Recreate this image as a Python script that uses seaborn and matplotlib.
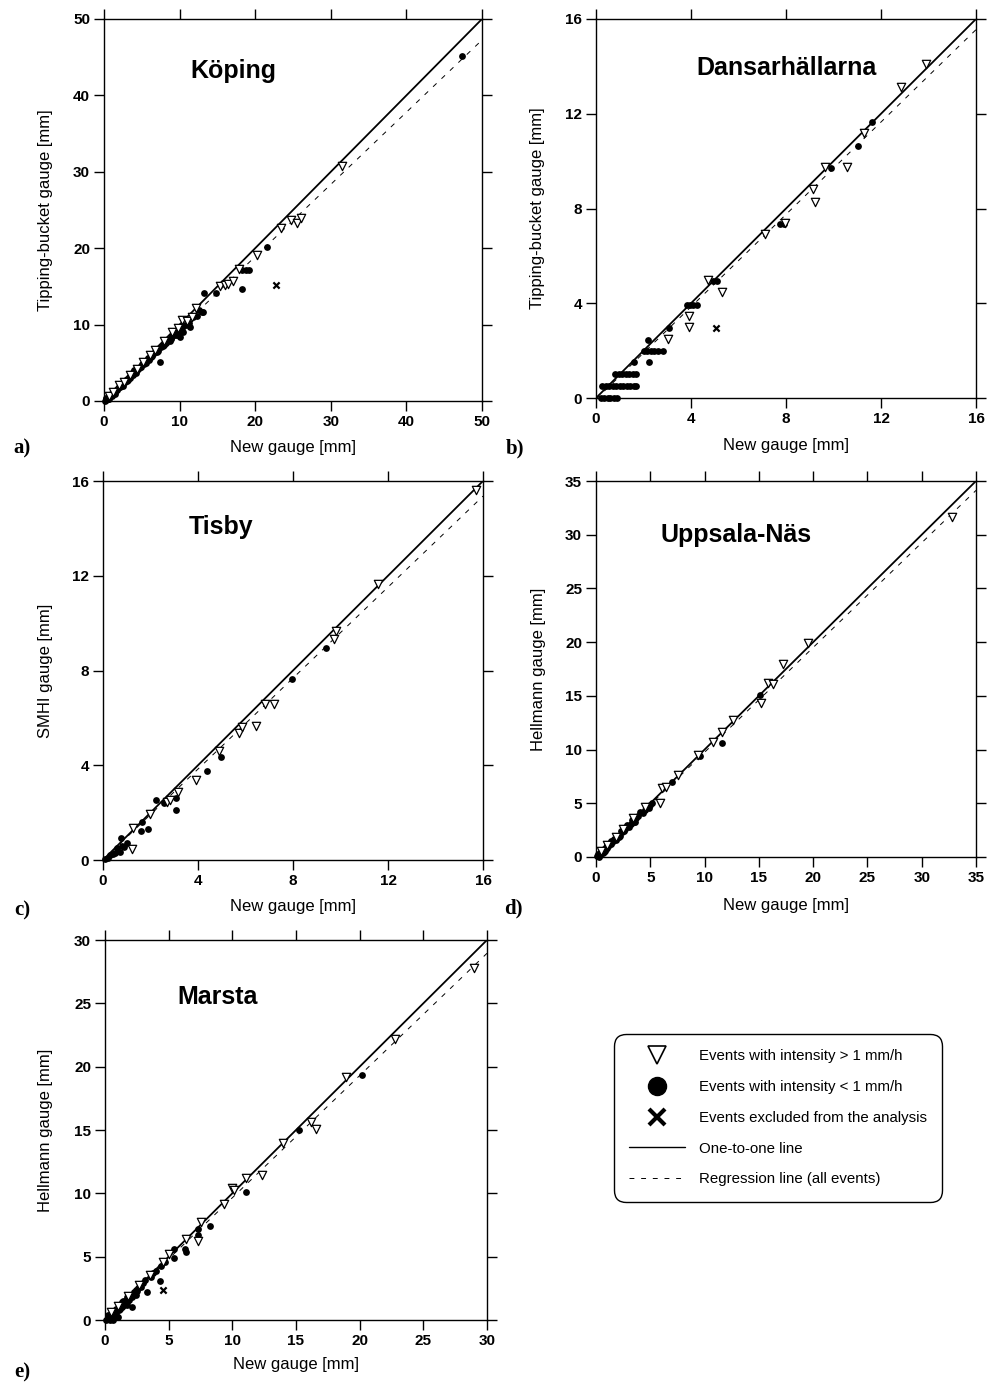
import numpy as np
import pandas as pd
import matplotlib
matplotlib.use("Agg")
import matplotlib.pyplot as plt
from matplotlib.lines import Line2D
import seaborn as sns

sns.set_style("ticks")
plt.rcParams['font.family'] = ['Liberation Sans', 'DejaVu Sans']
for k in ["text.color", "axes.labelcolor", "xtick.color", "ytick.color", "axes.edgecolor"]:
    plt.rcParams[k] = "black"

# ---------------- data ----------------
stations = ["Köping", "Dansarhällarna", "Tisby", "Uppsala-Näs", "Marsta"]
panel_letters = ["a)", "b)", "c)", "d)", "e)"]
y_labels = ["Tipping-bucket gauge [mm]", "Tipping-bucket gauge [mm]", "SMHI gauge [mm]",
            "Hellmann gauge [mm]", "Hellmann gauge [mm]"]
x_label = "New gauge [mm]"
axis_max = [50, 16, 16, 35, 30]
tick_step = [10, 4, 4, 5, 5]
reg_slope = [0.945, 0.975, 0.96, 0.975, 0.965]
reg_intercept = [0.0, -0.05, 0.0, 0.0, 0.0]

# a) Köping
kop_tri_x = [0.6, 1.2, 2.0, 2.6, 3.4, 4.3, 5.2, 6.1, 6.8, 8.0, 9.0, 9.8, 10.3, 11.0, 11.6, 12.2,
             15.3, 16.0, 16.4, 17.1, 17.8, 20.3, 23.4, 24.8, 25.5, 26.1, 31.5]
kop_tri_y = [0.6, 1.2, 2.1, 2.5, 3.4, 4.2, 5.1, 6.0, 6.7, 7.9, 9.0, 9.6, 10.6, 10.5, 11.0, 12.2,
             15.0, 15.2, 15.3, 15.7, 17.3, 19.1, 22.6, 23.7, 23.3, 24.0, 30.7]
kop_dot_x = [0.1, 0.2, 0.3, 0.4, 0.5, 0.6, 0.8, 0.9, 1.0, 1.2, 1.4, 1.5, 1.7, 1.9, 2.1, 2.3, 2.5,
             2.7, 2.9, 3.1, 3.3, 3.5, 3.7, 3.9, 4.0, 4.2, 4.5, 4.8, 5.0, 5.3, 5.6, 5.9, 6.2, 6.5,
             6.9, 7.2, 7.4, 7.6, 7.9, 8.2, 8.5, 8.7, 9.0, 9.3, 9.5, 9.7, 10.1, 10.3, 10.5, 11.4,
             12.3, 12.9, 13.1, 13.2, 14.8, 18.2, 18.2, 18.8, 19.2, 21.6, 47.4,
             0.3, 0.7, 1.1, 1.6, 2.0, 2.4, 2.8, 3.2, 3.6, 4.4, 4.9, 5.4, 5.8, 6.3, 6.7, 7.1,
             7.8, 8.3, 8.9, 9.4, 9.9, 10.8, 11.2, 11.8, 12.6, 0.5, 1.3, 2.2, 3.0, 3.8, 4.6,
             5.5, 6.0, 7.0, 8.0, 8.8, 9.6, 10.4]
kop_dot_y = [0.0, 0.2, 0.1, 0.3, 0.5, 0.3, 0.6, 0.8, 0.7, 1.0, 1.2, 0.9, 1.5, 1.7, 1.8, 2.2, 2.0,
             2.5, 2.7, 2.9, 3.1, 3.0, 3.5, 3.8, 4.0, 3.7, 4.2, 4.5, 4.8, 4.9, 5.3, 5.5, 5.8, 6.2,
             6.5, 6.8, 5.1, 7.1, 7.4, 7.6, 8.0, 7.8, 8.5, 8.8, 9.1, 8.9, 8.4, 9.5, 9.0, 9.7,
             11.1, 11.7, 11.6, 14.1, 14.1, 14.6, 17.1, 17.1, 17.1, 20.1, 45.2,
             0.4, 0.5, 1.0, 1.4, 1.8, 2.1, 2.5, 2.8, 3.3, 4.1, 4.4, 5.1, 5.6, 5.9, 6.4, 6.6,
             7.2, 7.9, 8.3, 8.7, 9.2, 10.0, 10.2, 11.0, 11.9, 0.2, 1.1, 1.9, 2.6, 3.4, 4.3,
             5.0, 5.4, 6.4, 7.3, 8.1, 8.7, 9.9]
kop_ex_x = [22.8]
kop_ex_y = [15.2]

# b) Dansarhällarna
dan_tri_x = [3.04, 3.93, 3.93, 4.73, 5.29, 7.12, 7.95, 9.15, 9.22, 9.64, 10.56, 11.30, 12.83, 13.88]
dan_tri_y = [2.48, 2.98, 3.47, 4.98, 4.46, 6.91, 7.38, 8.81, 8.29, 9.74, 9.74, 11.20, 13.14, 14.10]
dan_dot_x = [0.2, 0.35, 0.5, 0.6, 0.75, 0.9,
             0.25, 0.4, 0.55, 0.7, 0.85, 1.0, 1.15, 1.3, 1.45, 1.6, 1.7,
             0.8, 0.95, 1.1, 1.25, 1.4, 1.55, 1.7,
             1.6, 2.23,
             2.0, 2.15, 2.3, 2.45, 2.6, 2.8,
             2.18, 3.09,
             3.82, 3.95, 4.1, 4.25,
             4.94, 5.08, 7.75, 7.92, 9.88, 11.04, 11.62]
dan_dot_y = [0.0, 0.0, 0.0, 0.0, 0.0, 0.0,
             0.5, 0.5, 0.5, 0.5, 0.5, 0.5, 0.5, 0.5, 0.5, 0.5, 0.5,
             1.0, 1.0, 1.0, 1.0, 1.0, 1.0, 1.0,
             1.5, 1.5,
             2.0, 2.0, 2.0, 2.0, 2.0, 2.0,
             2.45, 2.94,
             3.93, 3.93, 3.93, 3.93,
             4.94, 4.94, 7.34, 7.34, 9.72, 10.65, 11.66]
dan_ex_x = [5.05]
dan_ex_y = [2.94]

# c) Tisby
tis_tri_x = [1.23, 1.28, 1.98, 2.68, 2.82, 3.17, 3.92, 4.9, 5.73, 5.84, 6.44, 6.82, 7.2, 9.74,
             9.81, 11.59, 15.7]
tis_tri_y = [0.45, 1.34, 1.94, 2.46, 2.53, 2.86, 3.38, 4.6, 5.37, 5.61, 5.66, 6.57, 6.57, 9.32,
             9.66, 11.64, 15.6]
tis_dot_x = [0.1, 0.2, 0.3, 0.4, 0.5, 0.72, 0.6, 0.8, 0.9, 0.74, 1.0, 1.59, 1.63, 1.91, 2.23,
             2.58, 3.07, 3.07, 4.39, 4.95, 7.94, 9.37]
tis_dot_y = [0.05, 0.1, 0.2, 0.25, 0.3, 0.35, 0.5, 0.6, 0.55, 0.92, 0.7, 1.22, 1.62, 1.32, 2.55,
             2.42, 2.6, 2.11, 3.77, 4.36, 7.64, 8.96]
tis_ex_x = []
tis_ex_y = []

# d) Uppsala-Näs
upp_tri_x = [0.5, 1.0, 1.8, 2.5, 3.44, 4.5, 5.9, 6.05, 6.45, 7.58, 9.42, 10.75, 11.58, 12.65,
             15.17, 15.8, 16.3, 17.25, 19.56, 32.76]
upp_tri_y = [0.6, 1.1, 1.9, 2.6, 3.6, 4.7, 5.0, 6.39, 6.54, 7.63, 9.49, 10.68, 11.66, 12.75,
             14.36, 16.2, 16.1, 17.97, 19.95, 31.65]
upp_dot_x = [0.1, 0.2, 0.3, 0.4, 0.5, 0.6, 0.7, 0.8, 0.9, 1.0, 1.1, 1.2, 1.3, 1.5, 1.6, 1.7,
             1.9, 2.0, 2.2, 2.4, 2.6, 2.8, 3.0, 3.2, 3.5, 3.7, 3.9, 4.05, 4.3, 4.7, 5.0, 5.2,
             6.97, 9.6, 11.58, 15.1,
             0.15, 0.45, 0.75, 1.05, 1.4, 1.8, 2.3, 2.7, 3.3, 3.6, 4.5, 4.9, 0.3, 0.9, 1.4,
             2.1, 2.9]
upp_dot_y = [0.1, 0.1, 0.3, 0.2, 0.5, 0.4, 0.7, 0.6, 0.9, 0.8, 1.0, 1.1, 1.3, 1.4, 1.5, 1.7,
             1.8, 2.0, 2.0, 2.3, 2.4, 2.8, 2.8, 3.1, 3.3, 3.6, 3.8, 4.22, 4.1, 4.68, 4.84, 5.0,
             7.0, 9.4, 10.58, 15.08,
             0.3, 0.6, 0.5, 1.2, 1.5, 1.6, 2.4, 2.6, 3.4, 3.3, 4.4, 4.6, 0.0, 0.7, 1.2,
             1.9, 3.0]
upp_ex_x = []
upp_ex_y = []

# e) Marsta
mar_tri_x = [0.5, 1.0, 1.8, 2.7, 3.53, 4.52, 5.0, 6.36, 7.27, 7.54, 9.35, 10.0, 10.15, 11.04,
             12.3, 13.95, 16.15, 16.54, 18.93, 22.8, 29.0]
mar_tri_y = [0.6, 1.1, 1.9, 2.8, 3.55, 4.6, 5.2, 6.37, 6.26, 7.76, 9.15, 10.39, 10.3, 11.18,
             11.44, 13.94, 15.65, 15.05, 19.2, 22.2, 27.8]
mar_dot_x = [0.1, 0.2, 0.3, 0.4, 0.5, 0.6, 0.7, 0.8, 0.9, 1.0, 1.1, 1.2, 1.3, 1.4, 1.5, 1.6,
             1.7, 1.8, 1.9, 2.09, 2.0, 2.2, 2.3, 2.4, 2.5, 2.6, 2.8, 3.0, 3.14, 3.27, 3.6, 3.8,
             4.0, 4.32, 4.4, 4.7, 5.42, 5.42, 6.28, 6.36, 7.33, 7.33, 8.25, 11.07, 15.26, 20.16,
             0.25, 0.55, 0.85, 1.15, 1.45, 1.75, 2.15, 2.45, 2.75, 0.4, 0.9, 1.3, 1.7, 0.6, 1.0]
mar_dot_y = [0.0, 0.1, 0.2, 0.3, 0.1, 0.5, 0.4, 0.7, 0.6, 0.9, 0.8, 1.1, 1.0, 1.3, 1.2, 1.5,
             1.4, 1.7, 1.6, 1.05, 1.9, 2.0, 2.2, 2.4, 2.3, 2.5, 2.6, 2.9, 3.16, 2.24, 3.4, 3.7,
             3.9, 3.08, 4.3, 4.6, 5.58, 4.87, 5.58, 5.39, 7.16, 6.71, 7.42, 10.13, 15.0, 19.34,
             0.4, 0.3, 0.9, 0.9, 1.5, 1.8, 1.8, 2.0, 2.8, 0.0, 0.4, 1.4, 1.2, 0.0, 0.2]
mar_ex_x = [4.58]
mar_ex_y = [2.37]

tri_x = [kop_tri_x, dan_tri_x, tis_tri_x, upp_tri_x, mar_tri_x]
tri_y = [kop_tri_y, dan_tri_y, tis_tri_y, upp_tri_y, mar_tri_y]
dot_x = [kop_dot_x, dan_dot_x, tis_dot_x, upp_dot_x, mar_dot_x]
dot_y = [kop_dot_y, dan_dot_y, tis_dot_y, upp_dot_y, mar_dot_y]
ex_x = [kop_ex_x, dan_ex_x, tis_ex_x, upp_ex_x, mar_ex_x]
ex_y = [kop_ex_y, dan_ex_y, tis_ex_y, upp_ex_y, mar_ex_y]

legend_labels = ["Events with intensity > 1 mm/h", "Events with intensity < 1 mm/h",
                 "Events excluded from the analysis", "One-to-one line",
                 "Regression line (all events)"]

# ---------------- layout ----------------
W, H = 988, 1385
fig = plt.figure(figsize=(W / 100, H / 100), dpi=100)

# axes boxes in pixels: left, top, right, bottom
boxes = [(104, 19, 482, 401), (596, 19, 976, 398), (103, 481, 483, 860),
         (596, 481, 976, 857), (105, 940, 487, 1320)]
title_pos = [(233, 71), (786, 68), (221, 527), (736, 535), (218, 997)]
letter_pos = [(22, 448), (515, 448), (22, 910), (513, 908), (22, 1372)]
xlab_top = [440, 438, 899, 898, 1357]
ylab_right = [53, 545, 53, 546, 53]

for i in range(5):
    l, t, r, b = boxes[i]
    ax = fig.add_axes([l / W, 1 - b / H, (r - l) / W, (b - t) / H])
    m = axis_max[i]

    dfd = pd.DataFrame({"x": dot_x[i], "y": dot_y[i]})
    dft = pd.DataFrame({"x": tri_x[i], "y": tri_y[i]})
    dfe = pd.DataFrame({"x": ex_x[i], "y": ex_y[i]})

    # one-to-one and regression lines
    xs = np.array([0, m])
    ax.plot(xs, xs, color="black", lw=1.3, zorder=2)
    ax.plot(xs, reg_intercept[i] + reg_slope[i] * xs, color="black", lw=0.7,
            dashes=(5, 7), zorder=2)

    sns.scatterplot(data=dfd, x="x", y="y", ax=ax, marker="o", s=24, color="black",
                    edgecolor="black", linewidth=0, zorder=3, clip_on=False)
    sns.scatterplot(data=dft, x="x", y="y", ax=ax, marker="v", s=36, facecolor="white",
                    edgecolor="black", linewidth=0.9, zorder=4, clip_on=False)
    if len(dfe):
        sns.scatterplot(data=dfe, x="x", y="y", ax=ax, marker="x", s=20, color="black",
                        linewidth=1.6, zorder=4, clip_on=False)

    ax.set_xlim(0, m)
    ax.set_ylim(0, m)
    ticks = np.arange(0, m + 0.01, tick_step[i])
    ax.set_xticks(ticks)
    ax.set_yticks(ticks)
    ax.set_xticklabels([f"{v:g}" for v in ticks], fontweight="bold", fontsize=11)
    ax.set_yticklabels([f"{v:g}" for v in ticks], fontweight="bold", fontsize=11)
    ax.tick_params(direction="out", length=7, width=1, top=True, right=True,
                   labeltop=False, labelright=False, pad=3, colors="black")
    for s in ax.spines.values():
        s.set_visible(True)
        s.set_linewidth(1.0)
        s.set_color("black")
    ax.set_xlabel(x_label, fontsize=12)
    ax.set_ylabel(y_labels[i], fontsize=12)
    ax.xaxis.set_label_coords(0.5, -(xlab_top[i] - b) / (b - t))
    ax.yaxis.set_label_coords((ylab_right[i] - l) / (r - l), 0.5)

    tx, ty = title_pos[i]
    fig.text(tx / W, 1 - ty / H, stations[i], fontsize=18, fontweight="bold",
             ha="center", va="center")
    lx, ly = letter_pos[i]
    fig.text(lx / W, 1 - ly / H, panel_letters[i], fontsize=15, fontweight="bold",
             family=["Liberation Serif", "DejaVu Serif"], ha="center", va="center")

# legend
handles = [
    Line2D([], [], ls="none", marker="v", markersize=13, markerfacecolor="white",
           markeredgecolor="black", markeredgewidth=1.2),
    Line2D([], [], ls="none", marker="o", markersize=13, color="black"),
    Line2D([], [], ls="none", marker="x", markersize=11, color="black", markeredgewidth=3),
    Line2D([], [], color="black", lw=1.0),
    Line2D([], [], color="black", lw=0.7, dashes=(5, 7)),
]
leg = fig.legend(handles, legend_labels, loc="upper left",
                 bbox_to_anchor=(614 / W, 1 - 1034 / H), fontsize=10.8,
                 frameon=True, fancybox=True, handlelength=3.7, handletextpad=0.95,
                 labelspacing=1.12, borderpad=1.02, borderaxespad=0)
fr = leg.get_frame()
fr.set_edgecolor("black")
fr.set_linewidth(1.0)
fr.set_alpha(1)
fr.set_boxstyle("round,pad=0,rounding_size=0.8")

fig.savefig("out.png", dpi=100, facecolor="white")
